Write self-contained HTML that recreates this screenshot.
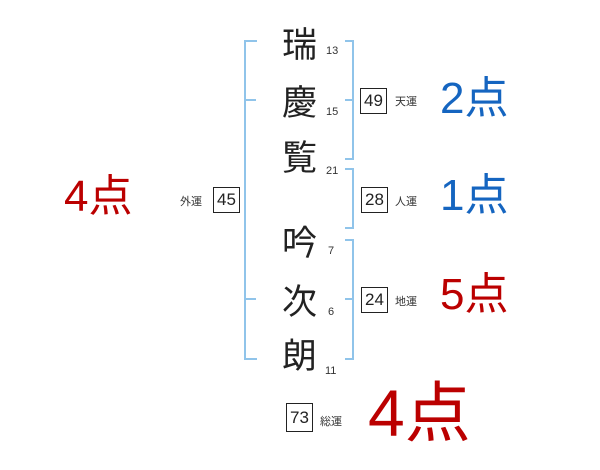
<!DOCTYPE html>
<html><head><meta charset="utf-8"><style>
body{margin:0;width:600px;height:470px;background:#fff;position:relative;overflow:hidden;font-family:"Liberation Sans","Noto Sans CJK JP",sans-serif}
.a{position:absolute;white-space:nowrap;line-height:1}
.k{font-size:35px;color:#222;left:282px}
.n{font-size:11px;color:#333}
.b{position:absolute;border:1px solid #222;width:25px;height:24px;font-size:17px;text-align:center;line-height:24px;color:#222}
.l{font-size:11px;color:#333}
.bl{color:#1565c0;font-size:44px}
.rd{color:#b00;font-size:44px}
</style></head><body>
<svg width="600" height="470" style="position:absolute;left:0;top:0" stroke="#90c4ea" stroke-width="2" fill="none">
<path d="M257 41H245V359H257M245 100H256M245 299H256"/>
<path d="M345 41H353V159H345M345 100H353"/>
<path d="M345 169H353V228H345"/>
<path d="M345 240H353V359H345M345 299H353"/>
</svg>
<div class="a k" style="top:28px">瑞</div><div class="a n" style="left:326px;top:46px">13</div>
<div class="a k" style="top:86px">慶</div><div class="a n" style="left:326px;top:107px">15</div>
<div class="a k" style="top:141px">覧</div><div class="a n" style="left:326px;top:166px">21</div>
<div class="a k" style="top:226px">吟</div><div class="a n" style="left:328px;top:246px">7</div>
<div class="a k" style="top:285px">次</div><div class="a n" style="left:328px;top:307px">6</div>
<div class="a k" style="top:339px">朗</div><div class="a n" style="left:325px;top:366px">11</div>
<div class="b" style="left:360px;top:88px">49</div><div class="a l" style="left:395px;top:97px">天運</div>
<div class="b" style="left:361px;top:187px">28</div><div class="a l" style="left:395px;top:197px">人運</div>
<div class="b" style="left:361px;top:287px">24</div><div class="a l" style="left:395px;top:297px">地運</div>
<div class="b" style="left:213px;top:187px">45</div><div class="a l" style="left:180px;top:197px">外運</div>
<div class="b" style="left:286px;top:403px;height:27px;line-height:27px">73</div><div class="a l" style="left:320px;top:417px">総運</div>
<div class="a bl" style="left:440px;top:77px">2点</div>
<div class="a bl" style="left:440px;top:174px">1点</div>
<div class="a rd" style="left:440px;top:273px">5点</div>
<div class="a rd" style="left:64px;top:175px">4点</div>
<div class="a rd" style="left:368px;top:380px;font-size:66px">4点</div>
</body></html>
